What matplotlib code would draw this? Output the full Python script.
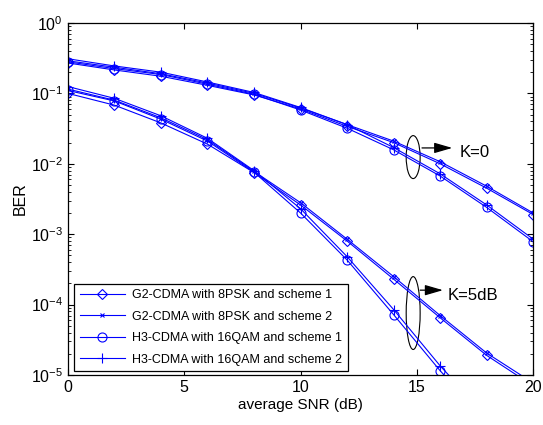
import matplotlib
matplotlib.use("Agg")
import matplotlib.pyplot as plt
from matplotlib.patches import Ellipse
from matplotlib.ticker import LogLocator, NullFormatter

plt.rcParams['font.family'] = ['Liberation Sans', 'DejaVu Sans']
plt.rcParams['mathtext.fontset'] = 'custom'
plt.rcParams['mathtext.rm'] = 'Liberation Sans'
plt.rcParams['mathtext.it'] = 'Liberation Sans:italic'
plt.rcParams['mathtext.bf'] = 'Liberation Sans:bold'

snr = [0, 2, 4, 6, 8, 10, 12, 14, 16, 18, 20]

# K = 0 (Rayleigh)
g2_s1_k0 = [0.27, 0.215, 0.175, 0.13, 0.095, 0.060, 0.034, 0.020, 0.0100, 0.0045, 0.0019]
g2_s2_k0 = [0.29, 0.235, 0.19, 0.14, 0.100, 0.062, 0.036, 0.021, 0.0107, 0.0048, 0.0020]
h3_s1_k0 = [0.28, 0.225, 0.185, 0.135, 0.097, 0.058, 0.032, 0.0158, 0.0067, 0.0024, 0.00078]
h3_s2_k0 = [0.31, 0.245, 0.20, 0.145, 0.103, 0.063, 0.036, 0.017, 0.0072, 0.0026, 0.00085]

# K = 5 dB (Rician)
g2_s1_k5 = [0.100, 0.068, 0.038, 0.019, 0.0075, 0.0026, 0.00080, 0.00023, 6.5e-5, 1.9e-5, 7.0e-6]
g2_s2_k5 = [0.115, 0.080, 0.045, 0.022, 0.0078, 0.0028, 0.00085, 0.00025, 7.0e-5, 2.05e-5, 7.7e-6]
h3_s1_k5 = [0.110, 0.078, 0.043, 0.021, 0.0076, 0.0020, 0.00043, 7.2e-5, 1.15e-5, 2.2e-6, 4.0e-7]
h3_s2_k5 = [0.125, 0.085, 0.048, 0.023, 0.0080, 0.0023, 0.00048, 8.5e-5, 1.35e-5, 2.6e-6, 5.0e-7]

labels = ['G2-CDMA with 8PSK and scheme 1',
          'G2-CDMA with 8PSK and scheme 2',
          'H3-CDMA with 16QAM and scheme 1',
          'H3-CDMA with 16QAM and scheme 2']

blue = '#0000ff'
styles = [dict(marker='D', markersize=5),
          dict(marker='x', markersize=3.5),
          dict(marker='o', markersize=6.5),
          dict(marker='+', markersize=7.5)]

fig = plt.figure(figsize=(5.43, 4.25), dpi=100)
ax = fig.add_axes([0.125, 0.1176, 0.857, 0.8284])

series_k0 = [g2_s1_k0, g2_s2_k0, h3_s1_k0, h3_s2_k0]
series_k5 = [g2_s1_k5, g2_s2_k5, h3_s1_k5, h3_s2_k5]

for lab, st, y0, y5 in zip(labels, styles, series_k0, series_k5):
    kw = dict(color=blue, lw=0.8, markerfacecolor='none', markeredgecolor=blue,
              markeredgewidth=0.8, **st)
    ax.semilogy(snr, y0, label=lab, **kw)
    ax.semilogy(snr, y5, **kw)

ax.set_xlim(0, 20)
ax.set_ylim(1e-5, 1)
ax.set_xticks([0, 5, 10, 15, 20])
ax.yaxis.set_major_locator(LogLocator(base=10, numticks=10))
ax.yaxis.set_minor_locator(LogLocator(base=10, subs=range(2, 10), numticks=50))
ax.yaxis.set_minor_formatter(NullFormatter())
ax.tick_params(which='both', direction='in', top=True, right=True, labelsize=11.5)
ax.tick_params(which='major', length=4, width=0.8)
ax.tick_params(which='minor', length=2, width=0.6)
for s in ax.spines.values():
    s.set_linewidth(0.9)

ax.set_xlabel('average SNR (dB)', fontsize=11, labelpad=2)
ax.set_ylabel('BER', fontsize=11.5, labelpad=2)

# group annotations
arrow_kw = dict(arrowstyle='-|>,head_length=1.1,head_width=0.32',
                color='black', lw=0.9, shrinkA=0, shrinkB=0)

ax.add_patch(Ellipse((0.742, 0.619), 0.030, 0.122, transform=ax.transAxes,
                     fill=False, ec='black', lw=0.8))
ax.annotate('', xy=(0.826, 0.645), xytext=(0.761, 0.645), xycoords='axes fraction',
            arrowprops=arrow_kw)
ax.text(0.841, 0.631, 'K=0', transform=ax.transAxes, fontsize=12, va='center', ha='left')

ax.add_patch(Ellipse((0.742, 0.176), 0.030, 0.207, transform=ax.transAxes,
                     fill=False, ec='black', lw=0.8))
ax.annotate('', xy=(0.806, 0.241), xytext=(0.757, 0.241), xycoords='axes fraction',
            arrowprops=arrow_kw)
ax.text(0.817, 0.227, 'K=5dB', transform=ax.transAxes, fontsize=12, va='center', ha='left')

leg = ax.legend(loc='lower left', bbox_to_anchor=(0.013, 0.011), fontsize=9,
                frameon=True, fancybox=False, edgecolor='black', framealpha=1,
                handlelength=3.6, labelspacing=0.75, borderpad=0.45,
                handletextpad=0.6, borderaxespad=0)
leg.get_frame().set_linewidth(0.9)

fig.savefig('out.png', dpi=100)
